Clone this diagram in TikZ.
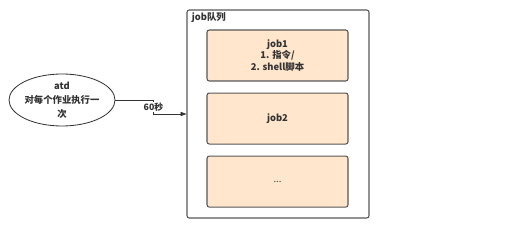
\documentclass[tikz,border=0pt]{standalone}
\usepackage{xcolor}
\usepackage{fontspec}
\setmainfont{Noto Sans CJK SC}
\usepackage{tikz}
\usetikzlibrary{calc,positioning,shapes.geometric,arrows.meta}

\definecolor{jobfill}{HTML}{FFE6CC}
\definecolor{jobline}{HTML}{575757}
\definecolor{txtgray}{HTML}{333333}

\begin{document}
\begin{tikzpicture}[
        x=0.03cm, y=-0.03cm,
        jobbox/.style={
            draw=jobline, fill=jobfill,
            rounded corners=2pt, line width=0.9pt,
            minimum width=4.23cm, minimum height=1.53cm,
            align=center, text=txtgray,
            font=\bfseries\fontsize{8}{10}\selectfont
        },
        conn/.style={
            draw=txtgray, line width=0.6pt,
            -{Triangle[length=5pt,width=3.6pt]}
        }
    ]
        \useasboundingbox (0,0) rectangle (512,232);
        % job queue
        \node[
            draw=jobline, line width=0.9pt, rounded corners=2pt,
            minimum width=5.46cm, minimum height=6.24cm,
            inner sep=0pt
        ] (queue) at (278,114) {};
        \node[
            anchor=north west, inner sep=1pt, text=txtgray,
            font=\bfseries\fontsize{8}{10}\selectfont
        ] at ($(queue.north west)+(4,2)$) {job队列};
        \node[jobbox] (job1) at (277.5,55.5) {job1\\1. 指令/\\2. shell脚本};
        \node[jobbox, below=0.33cm of job1] (job2) {job2};
        \node[jobbox, below=0.33cm of job2, font=\fontsize{8}{10}\selectfont] (job3) {...};
        % atd
        \node[
            ellipse, draw=txtgray, line width=0.7pt, fill=white,
            minimum width=2.9cm, minimum height=1.56cm,
            inner sep=0pt, align=center, text=txtgray,
            font=\bfseries\fontsize{8}{12}\selectfont
        ] (atd) at (62,100) {atd\\对每个作业执行一\\次};
        \draw[conn] (atd.east) -- ++(38,0) |-
            node[pos=0.25, fill=white, inner sep=1pt, text=txtgray,
                 font=\bfseries\fontsize{7.5}{9}\selectfont] {60秒}
            (queue.west);
    \end{tikzpicture}
\end{document}
